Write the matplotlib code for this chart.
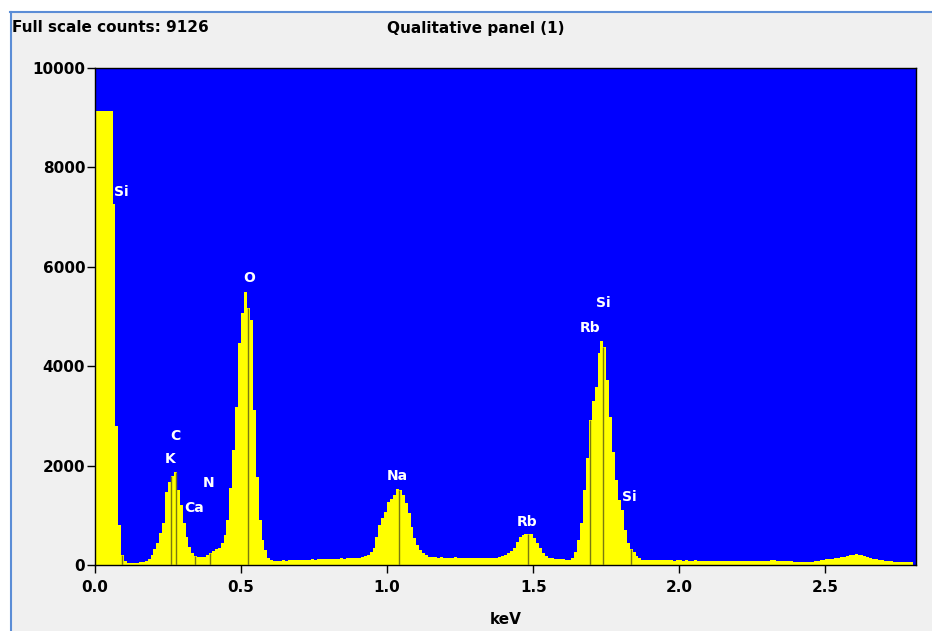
import matplotlib
matplotlib.use("Agg")
import matplotlib.pyplot as plt
import numpy as np
from matplotlib.patches import Rectangle
from matplotlib.lines import Line2D

# ---- data ----
channel_width_kev = 0.01
counts = [
    9126, 9126, 9126, 9126, 9126, 9126, 7260, 2800, 800, 200,      # 0.00
    80, 50, 45, 45, 50, 55, 60, 80, 120, 200,                     # 0.10
    330, 450, 640, 840, 1470, 1670, 1800, 1870, 1500, 1200,       # 0.20
    850, 560, 360, 240, 190, 170, 160, 170, 200, 240,             # 0.30
    280, 330, 350, 450, 600, 900, 1550, 2310, 3180, 4470,         # 0.40
    5070, 5490, 5170, 4930, 3120, 1770, 900, 500, 300, 150,       # 0.50
    100, 90, 85, 90, 95, 90, 100, 95, 100, 105,                   # 0.60
    100, 110, 105, 110, 115, 110, 120, 115, 120, 125,             # 0.70
    120, 130, 125, 130, 135, 130, 140, 135, 140, 150,             # 0.80
    150, 160, 180, 200, 260, 340, 570, 800, 950, 1070,            # 0.90
    1270, 1330, 1410, 1530, 1500, 1410, 1240, 1040, 770, 540,     # 1.00
    400, 300, 240, 200, 170, 160, 155, 150, 160, 150,             # 1.10
    150, 145, 150, 155, 150, 145, 150, 140, 150, 145,             # 1.20
    150, 145, 140, 150, 145, 140, 150, 145, 160, 190,             # 1.30
    210, 240, 290, 340, 460, 570, 600, 620, 630, 620,             # 1.40
    540, 440, 340, 240, 180, 150, 140, 130, 130, 125,             # 1.50
    120, 110, 100, 150, 260, 500, 840, 1510, 2150, 2920,          # 1.60
    3300, 3580, 4270, 4500, 4390, 3720, 2980, 2270, 1710, 1300,   # 1.70
    1110, 700, 440, 330, 260, 180, 140, 110, 100, 100,            # 1.80
    100, 95, 100, 95, 100, 100, 95, 100, 90, 95,                  # 1.90
    95, 90, 95, 90, 90, 95, 90, 90, 85, 90,                       # 2.00
    90, 85, 90, 85, 90, 85, 85, 90, 85, 85,                       # 2.10
    85, 80, 85, 80, 80, 85, 80, 80, 75, 80,                       # 2.20
    80, 100, 95, 90, 85, 80, 75, 80, 75, 70,                      # 2.30
    70, 65, 60, 65, 60, 70, 80, 90, 100, 110,                     # 2.40
    120, 130, 130, 140, 150, 160, 170, 190, 200, 210,             # 2.50
    220, 210, 200, 190, 170, 150, 130, 120, 110, 100,             # 2.60
    90, 80, 75, 70, 70, 65, 70, 65, 60, 60,                       # 2.70
]
line_energies = [0.092, 0.260, 0.277, 0.341, 0.392, 0.525, 1.041, 1.482, 1.694, 1.740, 1.836]
label_texts = ["Si", "K", "C", "Ca", "N", "O", "Na", "Rb", "Rb", "Si", "Si"]
label_x = [0.091, 0.257, 0.274, 0.340, 0.390, 0.527, 1.034, 1.479, 1.695, 1.740, 1.830]
label_y = [7505, 2130, 2595, 1150, 1650, 5775, 1790, 865, 4770, 5270, 1370]
x_ticks = [0.0, 0.5, 1.0, 1.5, 2.0, 2.5]
x_tick_labels = ["0.0", "0.5", "1.0", "1.5", "2.0", "2.5"]
y_ticks = [0, 2000, 4000, 6000, 8000, 10000]
y_tick_labels = ["0", "2000", "4000", "6000", "8000", "10000"]
full_scale = 9126
panel_title = "Qualitative panel (1)"

# ---- figure ----
W, H = 932, 631
fig = plt.figure(figsize=(W / 100, H / 100), dpi=100)
fig.patch.set_facecolor("#f0f0f0")

# window frame
fig.add_artist(Rectangle((0, 1 - 11 / H), 1, 11 / H, transform=fig.transFigure,
                         facecolor="white", edgecolor="none"))
fig.add_artist(Rectangle((0, 0), 10 / W, 1, transform=fig.transFigure,
                         facecolor="white", edgecolor="none"))
fig.add_artist(Line2D([10 / W, 1], [1 - 11.5 / H, 1 - 11.5 / H], transform=fig.transFigure,
                      color="#5b8dd6", lw=1.5))
fig.add_artist(Line2D([10.5 / W, 10.5 / W], [0, 1 - 11.5 / H], transform=fig.transFigure,
                      color="#5b8dd6", lw=1.5))

ax = fig.add_axes([95 / W, 1 - 565 / H, (916 - 95) / W, (565 - 68) / H])
ax.set_facecolor("#0000ff")

counts_arr = np.array(counts, dtype=float)
edges = np.arange(len(counts_arr) + 1) * channel_width_kev
ax.stairs(counts_arr, edges, fill=True, color="#ffff00", linewidth=0, zorder=2)

# peak marker lines
for e in line_energies:
    idx = int(e / channel_width_kev)
    ax.vlines(e, 0, counts_arr[idx], color="#7a7a10", lw=1.0, zorder=3)

for t, x, y in zip(label_texts, label_x, label_y):
    ax.text(x, y, t, color="white", fontsize=10, fontweight="bold",
            ha="center", va="center", zorder=4, family="DejaVu Sans")

ax.set_xlim(0, 2.81)
ax.set_ylim(0, 10000)
ax.set_xticks(x_ticks)
ax.set_xticklabels(x_tick_labels)
ax.set_yticks(y_ticks)
ax.set_yticklabels(y_tick_labels)
ax.tick_params(direction="out", length=6, width=1, colors="black", labelsize=11, pad=3)
ax.tick_params(axis="y", pad=1)
ax.tick_params(axis="x", pad=5)
for lab in ax.get_xticklabels() + ax.get_yticklabels():
    lab.set_fontweight("bold")
for s in ax.spines.values():
    s.set_color("black")
    s.set_linewidth(1)
ax.set_xlabel("keV", fontsize=11, fontweight="bold", labelpad=12)

fig.text(12 / W, 1 - 28 / H, f"Full scale counts: {full_scale}", fontsize=11,
         fontweight="bold", ha="left", va="center", family="DejaVu Sans")
fig.text(476 / W, 1 - 28 / H, panel_title, fontsize=11, fontweight="bold",
         ha="center", va="center", family="DejaVu Sans")

fig.savefig("out.png", dpi=100, facecolor=fig.get_facecolor())
